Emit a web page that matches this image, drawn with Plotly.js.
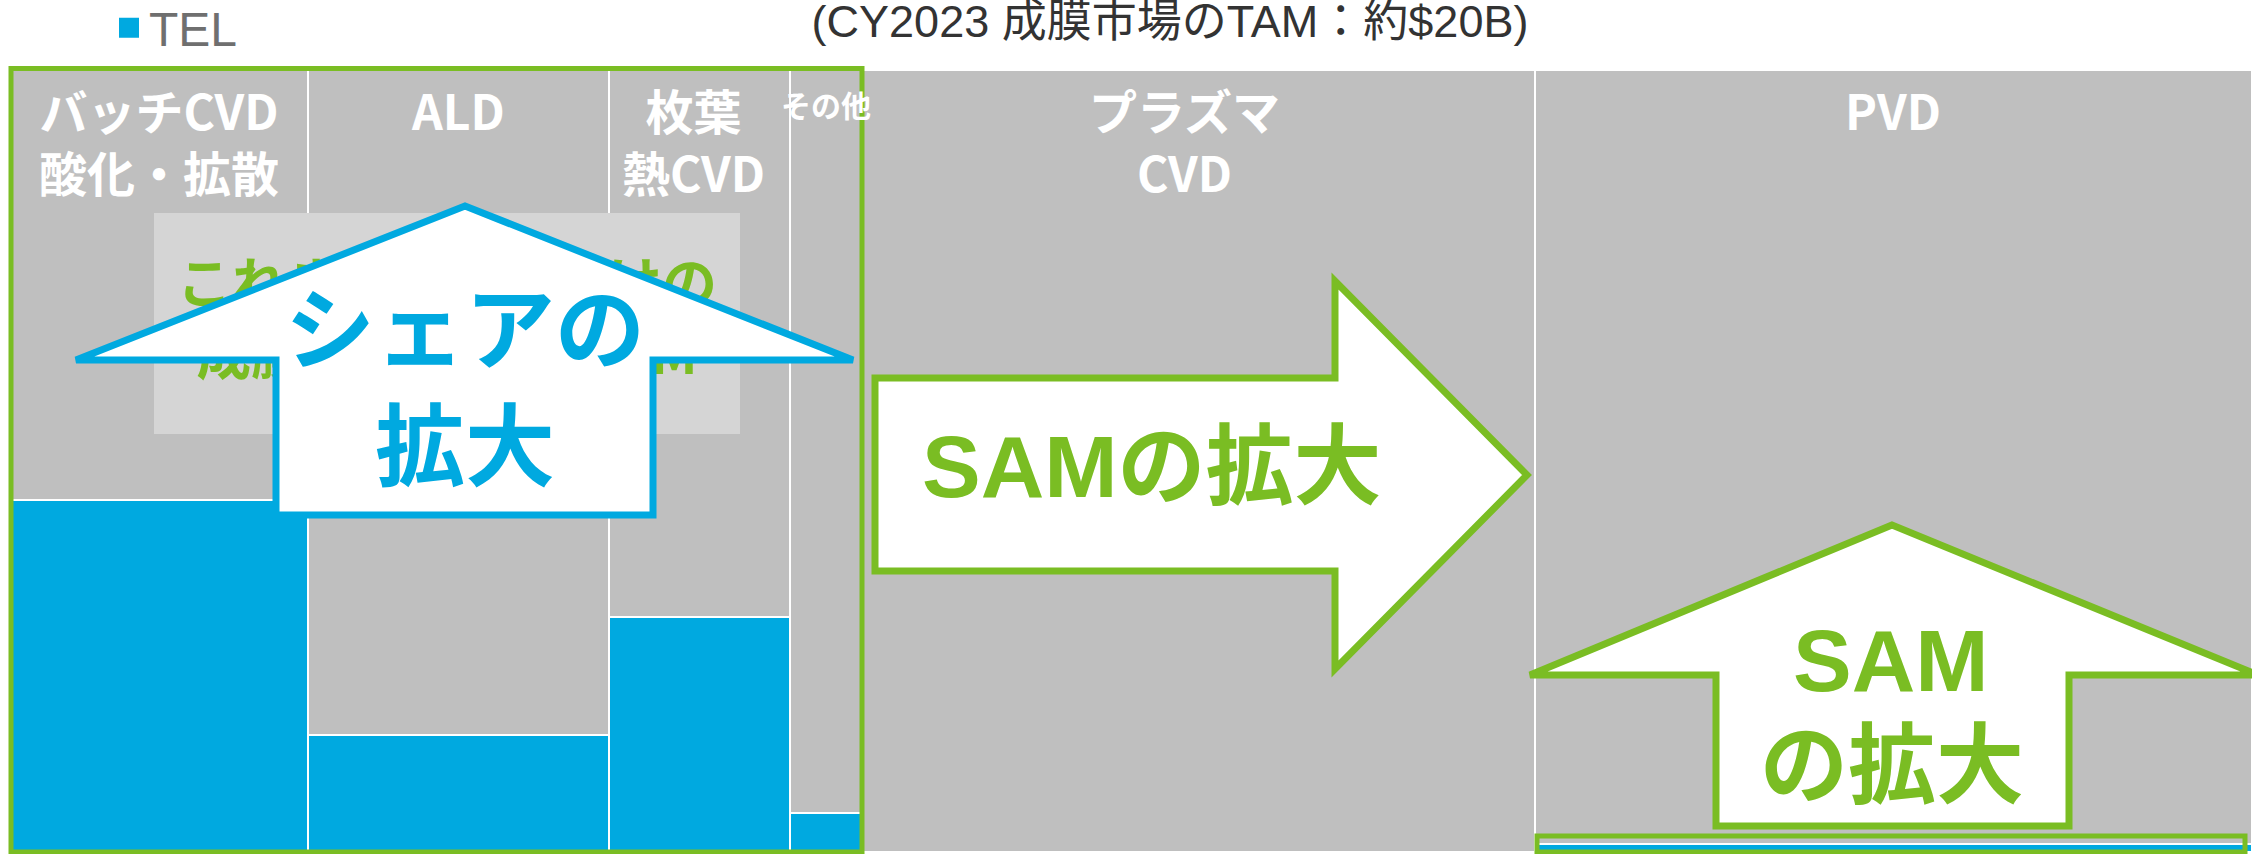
<!DOCTYPE html>
<html>
<head>
<meta charset="utf-8">
<script src="https://cdn.plot.ly/plotly-3.0.1.min.js"></script>
<style>
  html, body { margin: 0; padding: 0; background: #ffffff; }
  #chart { width: 2252px; height: 854px; }
</style>
</head>
<body>
<div id="chart"></div>
<script>
// Film-deposition market (CY2023 TAM ~ $20B), Marimekko: column width = segment share of TAM,
// blue height = TEL share inside the segment.
const segments = ["バッチCVD<br>酸化・拡散", "ALD", "枚葉<br>熱CVD", "その他", "プラズマ<br>CVD", "PVD"];
const tamShare = [13.3, 13.4, 8.1, 3.2, 30.0, 32.0];   // % of TAM
const telShare = [0.45, 0.15, 0.30, 0.05, 0.0, 0.01];  // TEL share within segment

const BLUE = "#00a9e0";
const GRAY = "#bfbfbf";
const GREEN = "#7abd23";
const LABEL_FONT = "Noto Sans CJK JP, sans-serif";
const LATIN_FONT = "Liberation Sans, Noto Sans CJK JP, sans-serif";

// column centres from cumulative widths
const centers = [];
let acc = 0;
for (const w of tamShare) { centers.push(acc + w / 2); acc += w; }

// plot box in page pixels, used to place the overlay drawings
const PL = 10, PT = 70, PW = 2242, PH = 782;
const px = (x) => (x - PL) / PW;
const py = (y) => (PT + PH - y) / PH;
const pathOf = (pts) => "M" + pts.map(([x, y]) => `${px(x)},${py(y)}`).join("L") + "Z";

const traces = [
  { type: "bar", name: "TEL", legendgroup: "tel", x: centers, y: telShare, width: tamShare,
    marker: { color: BLUE, line: { color: "#ffffff", width: 2 } },
    showlegend: false, hoverinfo: "skip" },
  { type: "bar", name: "その他企業", x: centers, y: telShare.map((s) => 1 - s), width: tamShare,
    marker: { color: GRAY, line: { color: "#ffffff", width: 2 } },
    showlegend: false, hoverinfo: "skip" },
  // legend key only (bar keys are drawn too small)
  { type: "scatter", mode: "markers", name: "TEL", legendgroup: "tel", x: [null], y: [null],
    marker: { symbol: "square", size: 16, color: BLUE, line: { color: BLUE, width: 4 } } },
];

// small nudges so the labels sit where the reference puts them
const labelShift = [0, 0, -6, 0, -14, 0];

const annotations = segments.map((s, i) => ({
  x: centers[i], xref: "x", xanchor: "center", xshift: labelShift[i],
  y: py(s === "その他" ? 80 : 72), yref: "paper", yanchor: "top",
  text: s, showarrow: false,
  font: { family: LABEL_FONT, size: s === "その他" ? 30 : 48, color: "#ffffff", weight: "bold" },
}));

annotations.push(
  { x: px(465), y: py(381), xref: "paper", yref: "paper", xanchor: "center", yanchor: "middle",
    text: "シェアの<br>拡大", showarrow: false,
    font: { family: LABEL_FONT, size: 90, color: BLUE, weight: "bold" } },
  { x: px(1152), y: py(466), xref: "paper", yref: "paper", xanchor: "center", yanchor: "middle",
    text: "SAMの拡大", showarrow: false,
    font: { family: LATIN_FONT, size: 88, color: GREEN, weight: "bold" } },
  { x: px(1891), y: py(660), xref: "paper", yref: "paper", xanchor: "center", yanchor: "middle",
    text: "SAM", showarrow: false,
    font: { family: LATIN_FONT, size: 88, color: GREEN, weight: "bold" } },
  { x: px(1892), y: py(757), xref: "paper", yref: "paper", xanchor: "center", yanchor: "middle",
    text: "の拡大", showarrow: false,
    font: { family: LABEL_FONT, size: 88, color: GREEN, weight: "bold" } },
);

const shapes = [
  // former SAM box, partly hidden by the share arrow
  { type: "rect", xref: "paper", yref: "paper", x0: px(154), x1: px(740), y0: py(434), y1: py(213),
    fillcolor: "#d5d5d5", line: { width: 0 }, layer: "above",
    label: { text: "これまでのTEL向けの<br>成膜装置市場のSAM", textposition: "middle center",
             font: { family: LABEL_FONT, size: 55, color: GREEN, weight: "bold" } } },
  // green frame round the current SAM
  { type: "rect", xref: "paper", yref: "paper", x0: px(11), x1: px(862), y0: py(852), y1: py(68.5),
    line: { color: GREEN, width: 5 }, layer: "above" },
  // share arrow
  { type: "path", xref: "paper", yref: "paper", layer: "above",
    path: pathOf([[465, 206], [76, 360], [276, 360], [276, 515], [653, 515], [653, 360], [853, 360]]),
    fillcolor: "#ffffff", line: { color: BLUE, width: 7 } },
  // SAM expansion arrow to the right
  { type: "path", xref: "paper", yref: "paper", layer: "above",
    path: pathOf([[875, 378], [1335, 378], [1335, 281], [1527, 475], [1335, 669], [1335, 571], [875, 571]]),
    fillcolor: "#ffffff", line: { color: GREEN, width: 7 } },
  // SAM expansion arrow in PVD
  { type: "path", xref: "paper", yref: "paper", layer: "above",
    path: pathOf([[1892, 525], [1530, 675], [1716, 675], [1716, 826], [2069, 826], [2069, 675], [2258, 675]]),
    fillcolor: "#ffffff", line: { color: GREEN, width: 7 } },
  // small frame on the PVD TEL sliver
  { type: "rect", xref: "paper", yref: "paper", x0: px(1537), x1: px(2245), y0: py(852), y1: py(836),
    line: { color: GREEN, width: 5 }, layer: "above" },
];

const layout = {
  width: 2252, height: 854,
  paper_bgcolor: "#ffffff", plot_bgcolor: "#ffffff",
  margin: { l: PL, r: 0, t: PT, b: 2, autoexpand: false },
  barmode: "stack",
  title: { text: "(CY2023 成膜市場のTAM：約$20B)", xref: "container", yref: "container",
           x: 1170 / 2252, xanchor: "center", y: 1 - 21 / 854, yanchor: "middle",
           font: { family: LATIN_FONT, size: 45, color: "#333333" } },
  xaxis: { range: [0, 100], visible: false, fixedrange: true },
  yaxis: { range: [0, 1], visible: false, fixedrange: true },
  showlegend: true,
  legend: { orientation: "h", xref: "container", yref: "container", x: 109 / 2252, xanchor: "left",
            y: 1 - 28 / 854, yanchor: "middle", bgcolor: "rgba(0,0,0,0)", itemsizing: "trace",
            font: { family: LATIN_FONT, size: 48, color: "#6f6f6f" } },
  annotations, shapes,
};

Plotly.newPlot("chart", traces, layout, { displayModeBar: false, staticPlot: true });
</script>
</body>
</html>
